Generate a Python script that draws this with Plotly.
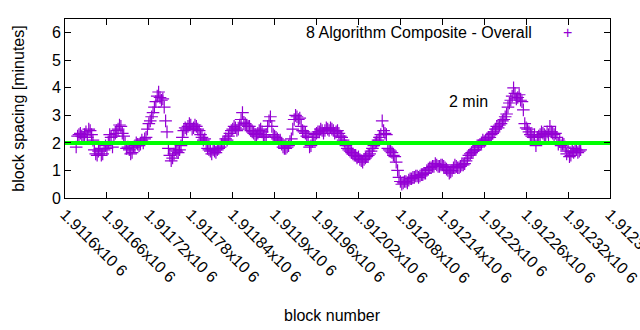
import plotly.graph_objects as go

# block numbers and block spacing in minutes
blocks_a = list(range(1911616, 1912340, 4))
spacing_a = [
    1.85, 2.3, 2.25, 2.3, 2.2, 2.45, 2.1, 1.6, 1.7, 1.55,
    1.75, 1.8, 2.3, 1.85, 2.35, 2.5, 2.6, 2.25, 1.8, 1.75,
    1.65, 1.9, 1.95, 1.95, 2.0, 2.2, 2.7, 2.95, 3.3, 3.7,
    3.65, 3.6, 2.8, 1.8, 1.35, 1.6, 1.7, 1.75, 2.2, 2.55,
    2.6, 2.65, 2.55, 2.6, 2.45, 2.2, 2.15, 1.8, 1.7, 1.75,
    1.65, 1.8, 1.95, 2.05, 2.1, 2.35, 2.5, 2.55, 2.5, 2.85,
    2.75, 2.65, 2.6, 2.4, 2.3, 2.35, 2.5, 2.2, 2.3, 2.8,
    2.6, 2.25, 2.15, 2.1, 1.85, 1.8, 1.9, 2.15, 2.85, 2.95,
    2.9, 2.45, 2.35, 2.2, 1.9, 2.2, 2.35, 2.4, 2.45, 2.45,
    2.5, 2.55, 2.45, 2.4, 2.35, 2.2, 2.05, 1.8, 1.7, 1.6,
    1.55, 1.5, 1.35, 1.4, 1.5, 1.6, 1.8, 2.0, 2.1, 2.3,
    2.45, 2.3, 1.75, 1.65, 1.5, 1.0, 0.6, 0.55, 0.6, 0.65,
    0.7, 0.75, 0.8, 0.8, 0.85, 0.9, 1.05, 1.1, 1.15, 1.2,
    1.15, 1.2, 1.1, 1.0, 0.95, 1.1, 1.15, 1.1, 1.2, 1.25,
    1.45, 1.6, 1.7, 1.75, 1.9, 2.0, 2.05, 2.15, 2.2, 2.35,
    2.5, 2.55, 2.7, 2.85, 3.05, 3.45, 3.7, 3.8, 3.65, 3.55,
    3.2, 2.55, 2.4, 2.25, 2.3, 2.2, 2.3, 2.35, 2.25, 2.3,
    2.4, 2.3, 2.2, 2.05, 1.95, 1.85, 1.7, 1.55, 1.65, 1.75,
    1.7,
]
blocks_b = list(range(1911618, 1912342, 4))
spacing_b = [
    2.25, 2.35, 2.2, 2.4, 2.5, 2.3, 1.75, 1.55, 1.8, 1.6,
    1.9, 2.0, 2.2, 2.25, 2.45, 2.65, 2.35, 2.0, 1.85, 1.6,
    1.85, 2.0, 1.9, 2.1, 2.15, 2.5, 2.8, 3.1, 3.5, 3.85,
    3.55, 3.3, 2.4, 1.55, 1.45, 1.75, 1.65, 1.9, 2.45, 2.5,
    2.7, 2.5, 2.65, 2.5, 2.3, 2.1, 1.95, 1.75, 1.6, 1.7,
    1.75, 1.85, 2.0, 2.15, 2.25, 2.45, 2.6, 2.45, 2.65, 3.1,
    2.7, 2.6, 2.45, 2.35, 2.25, 2.45, 2.4, 2.25, 2.6, 2.95,
    2.3, 2.2, 2.05, 1.95, 1.8, 1.85, 2.05, 2.5, 3.0, 2.85,
    2.6, 2.4, 2.25, 1.85, 2.05, 2.3, 2.4, 2.5, 2.35, 2.55,
    2.45, 2.5, 2.35, 2.45, 2.25, 2.1, 1.9, 1.75, 1.65, 1.55,
    1.45, 1.4, 1.3, 1.45, 1.55, 1.7, 1.9, 2.05, 2.2, 2.8,
    2.35, 1.8, 1.7, 1.55, 1.3, 0.75, 0.5, 0.6, 0.55, 0.7,
    0.75, 0.8, 0.75, 0.85, 0.9, 1.0, 1.1, 1.15, 1.25, 1.15,
    1.2, 1.15, 1.05, 0.9, 1.0, 1.2, 1.1, 1.15, 1.2, 1.35,
    1.55, 1.65, 1.75, 1.85, 1.95, 2.1, 2.1, 2.2, 2.3, 2.4,
    2.6, 2.65, 2.8, 2.95, 3.3, 3.55, 4.0, 3.6, 3.75, 3.5,
    2.7, 2.5, 2.3, 2.2, 1.9, 2.25, 2.4, 2.3, 2.4, 2.6,
    2.35, 2.35, 1.95, 1.9, 1.95, 1.6, 1.5, 1.7, 1.8, 1.65,
    1.75,
]
target_x = [1911600, 1912380]
target_y = [2, 2]
xtick_vals = [1911600, 1911660, 1911720, 1911780, 1911840, 1911900, 1911960,
              1912020, 1912080, 1912140, 1912200, 1912260, 1912320, 1912380]
xtick_text = ["1.9116x10 6", "1.91166x10 6", "1.91172x10 6", "1.91178x10 6",
              "1.91184x10 6", "1.9119x10 6", "1.91196x10 6", "1.91202x10 6",
              "1.91208x10 6", "1.91214x10 6", "1.9122x10 6", "1.91226x10 6",
              "1.91232x10 6", "1.91238x10 6"]
ytick_vals = [0, 1, 2, 3, 4, 5, 6]

PURPLE = "#9400D3"
FONT = "Liberation Sans"
FS = 16

fig = go.Figure()
fig.add_trace(go.Scatter(
    x=blocks_a + blocks_b, y=spacing_a + spacing_b, mode="markers",
    marker=dict(symbol="cross-thin-open", size=9, color=PURPLE,
                line=dict(color=PURPLE, width=1.2)),
    showlegend=False))
fig.add_trace(go.Scatter(
    x=target_x, y=target_y, mode="lines",
    line=dict(color="#00FF00", width=4), showlegend=False))

axis_common = dict(showline=True, linecolor="black", linewidth=1, mirror="allticks",
                   ticks="inside", ticklen=6, tickcolor="black", showgrid=False,
                   zeroline=False, automargin=False,
                   tickfont=dict(family=FONT, size=FS, color="black"))
fig.update_xaxes(range=[1911600, 1912380.01], tickvals=xtick_vals, ticktext=xtick_text,
                 tickangle=45, ticklabeloverflow="allow", **axis_common)
fig.update_yaxes(range=[0, 6.5], tickvals=ytick_vals, **axis_common)

fig.add_annotation(text="block spacing [minutes]", xref="paper", yref="paper",
                   x=-0.086, y=0.5, textangle=-90, showarrow=False,
                   xanchor="center", yanchor="middle",
                   font=dict(family=FONT, size=FS, color="black"))
fig.add_annotation(text="block number", xref="paper", yref="paper",
                   x=0.49, y=-0.654, showarrow=False,
                   xanchor="center", yanchor="middle",
                   font=dict(family=FONT, size=FS, color="black"))
fig.add_annotation(text="8 Algorithm Composite - Overall", xref="paper", yref="paper",
                   x=0.86, y=0.927, xanchor="right", yanchor="middle", showarrow=False,
                   font=dict(family=FONT, size=FS, color="black"))
fig.add_annotation(text="+", xref="paper", yref="paper",
                   x=0.922, y=0.927, xanchor="center", yanchor="middle", showarrow=False,
                   font=dict(family=FONT, size=FS, color=PURPLE))
fig.add_annotation(text="2 min", x=1912146, y=3.5, xanchor="left", yanchor="middle",
                   showarrow=False, font=dict(family=FONT, size=FS, color="black"))

fig.update_layout(width=640, height=330, margin=dict(l=65, r=30, t=19, b=132),
                  plot_bgcolor="white", paper_bgcolor="white",
                  font=dict(family=FONT, size=FS, color="black"))
fig.write_html("out.html")
